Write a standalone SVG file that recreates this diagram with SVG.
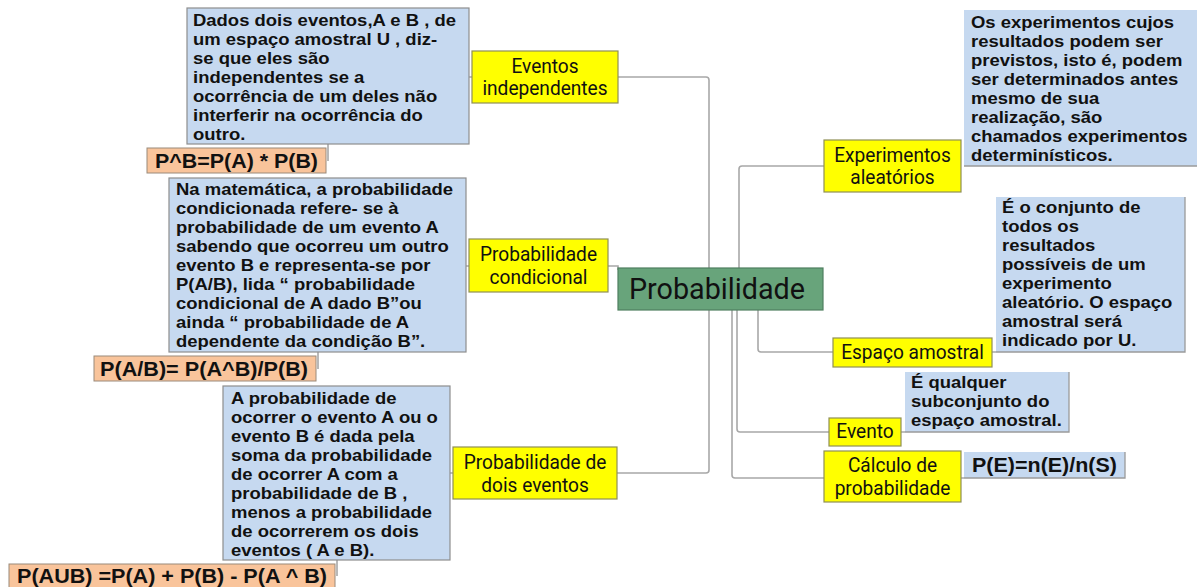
<svg xmlns="http://www.w3.org/2000/svg" width="1197" height="587" viewBox="0 0 1197 587">
<style>
.con{fill:none;stroke:#a8a8a8;stroke-width:1.6}
.blue{fill:#c6d9f0;stroke:#8e8e8e;stroke-width:1.2}
.blueR{fill:#c6d9f0}
.shadow{fill:none;stroke:#9a9a9a;stroke-width:1.3}
.yel{fill:#ffff00;stroke:#8f8f55;stroke-width:1.2}
.org{fill:#f9c49b;stroke:#9a8a7a;stroke-width:1}
.bt{font-family:"Liberation Sans",Arial,sans-serif;font-weight:bold;font-size:16px;fill:#111}
.ft{font-family:"Liberation Sans",Arial,sans-serif;font-weight:bold;font-size:21px;fill:#111}
.yt{font-family:Roboto,"Liberation Sans",sans-serif;font-size:21px;fill:#111;text-anchor:middle}
</style>
<rect width="1197" height="587" fill="#ffffff"/>
<g id="connectors">
<path class="con" d="M618,77 H706 Q709,77 709,80 V470 Q709,473 706,473 H617"/>
<path class="con" d="M608,266 H618 V270"/>
<path class="con" d="M739,270 V169 Q739,166 742,166 H824"/>
<path class="con" d="M758,310 V349 Q758,352 761,352 H833"/>
<path class="con" d="M737,310 V429 Q737,432 740,432 H829"/>
<path class="con" d="M732,310 V475 Q732,478 735,478 H824"/>
<path class="con" d="M469,77 H472 M466,266 H469 M450,473 H453 M992,352 H996 M901,432 H905 M961,478 H964"/>
<path class="con" d="M328,144 V161 M318,352 V369 M337,560 V576"/>
</g>
<g id="central">
<rect x="618" y="268" width="205" height="42" fill="#68a47b" stroke="#4f7f5f" stroke-width="1.2"/>
<text x="717" y="299" font-family="Roboto,'Liberation Sans',sans-serif" font-size="29" fill="#111" text-anchor="middle" textLength="176" lengthAdjust="spacingAndGlyphs">Probabilidade</text>
</g>
<g id="n-eventos-independentes">
<rect class="yel" x="472" y="51" width="146" height="52"/>
<g transform="translate(545 0) scale(0.91 1)"><text class="yt" x="0" y="73">Eventos</text><text class="yt" x="0" y="95">independentes</text></g>
</g>
<g id="d-eventos-independentes">
<rect class="blue" x="187" y="8" width="282" height="136"/>
<g class="bt" transform="translate(193 0) scale(1.155 1)">
<text x="0" y="26">Dados dois eventos,A e B , de</text>
<text x="0" y="45">um espaço amostral U , diz-</text>
<text x="0" y="64">se que eles são</text>
<text x="0" y="83">independentes se a</text>
<text x="0" y="102">ocorrência de um deles não</text>
<text x="0" y="121">interferir na ocorrência do</text>
<text x="0" y="140">outro.</text>
</g>
</g>
<g id="f-independentes">
<rect class="org" x="147" y="148" width="179" height="25"/>
<text class="ft" x="155" y="168" textLength="163" lengthAdjust="spacingAndGlyphs">P^B=P(A) * P(B)</text>
</g>
<g id="n-probabilidade-condicional">
<rect class="yel" x="469" y="239" width="139" height="53"/>
<g transform="translate(538.5 0) scale(0.91 1)"><text class="yt" x="0" y="261">Probabilidade</text><text class="yt" x="0" y="284">condicional</text></g>
</g>
<g id="d-probabilidade-condicional">
<rect class="blue" x="169" y="178" width="297" height="174"/>
<g class="bt" transform="translate(176 0) scale(1.155 1)">
<text x="0" y="195">Na matemática, a probabilidade</text>
<text x="0" y="214">condicionada refere- se à</text>
<text x="0" y="233">probabilidade de um evento A</text>
<text x="0" y="252">sabendo que ocorreu um outro</text>
<text x="0" y="271">evento B e representa-se por</text>
<text x="0" y="290">P(A/B), lida “ probabilidade</text>
<text x="0" y="309">condicional de A dado B”ou</text>
<text x="0" y="328">ainda “ probabilidade de A</text>
<text x="0" y="347">dependente da condição B”.</text>
</g>
</g>
<g id="f-condicional">
<rect class="org" x="94" y="356" width="222" height="25"/>
<text class="ft" x="100" y="376" textLength="208" lengthAdjust="spacingAndGlyphs">P(A/B)= P(A^B)/P(B)</text>
</g>
<g id="n-dois-eventos">
<rect class="yel" x="453" y="447" width="164" height="52"/>
<g transform="translate(535 0) scale(0.91 1)"><text class="yt" x="0" y="469">Probabilidade de</text><text class="yt" x="0" y="492">dois eventos</text></g>
</g>
<g id="d-dois-eventos">
<rect class="blue" x="223" y="386" width="227" height="174"/>
<g class="bt" transform="translate(231 0) scale(1.155 1)">
<text x="0" y="404">A probabilidade de</text>
<text x="0" y="423">ocorrer o evento A ou o</text>
<text x="0" y="442">evento B é dada pela</text>
<text x="0" y="461">soma da probabilidade</text>
<text x="0" y="480">de ocorrer A com a</text>
<text x="0" y="499">probabilidade de B ,</text>
<text x="0" y="518">menos a probabilidade</text>
<text x="0" y="537">de ocorrerem os dois</text>
<text x="0" y="556">eventos ( A e B).</text>
</g>
</g>
<g id="f-dois-eventos">
<rect class="org" x="9" y="564" width="326" height="26"/>
<text class="ft" x="17" y="583" textLength="310" lengthAdjust="spacingAndGlyphs">P(AUB) =P(A) + P(B) - P(A ^ B)</text>
</g>
<g id="n-experimentos">
<rect class="yel" x="824" y="140" width="137" height="52"/>
<g transform="translate(892.5 0) scale(0.91 1)"><text class="yt" x="0" y="162">Experimentos</text><text class="yt" x="0" y="184">aleatórios</text></g>
</g>
<g id="d-experimentos">
<rect class="blueR" x="964" y="10" width="233" height="156"/>
<path class="shadow" d="M964,166 H1197"/>
<g class="bt" transform="translate(971 0) scale(1.155 1)">
<text x="0" y="28">Os experimentos cujos</text>
<text x="0" y="47">resultados podem ser</text>
<text x="0" y="66">previstos, isto é, podem</text>
<text x="0" y="85">ser determinados antes</text>
<text x="0" y="104">mesmo de sua</text>
<text x="0" y="123">realização, são</text>
<text x="0" y="142">chamados experimentos</text>
<text x="0" y="161">determinísticos.</text>
</g>
</g>
<g id="n-espaco-amostral">
<rect class="yel" x="833" y="338" width="159" height="29"/>
<g transform="translate(912.5 0) scale(0.91 1)"><text class="yt" x="0" y="359">Espaço amostral</text></g>
</g>
<g id="d-espaco-amostral">
<rect class="blueR" x="996" y="197" width="189" height="155"/>
<path class="shadow" d="M996,352 H1185 V197"/>
<g class="bt" transform="translate(1002 0) scale(1.155 1)">
<text x="0" y="213">É o conjunto de</text>
<text x="0" y="232">todos os</text>
<text x="0" y="251">resultados</text>
<text x="0" y="270">possíveis de um</text>
<text x="0" y="289">experimento</text>
<text x="0" y="308">aleatório. O espaço</text>
<text x="0" y="327">amostral será</text>
<text x="0" y="346">indicado por U.</text>
</g>
</g>
<g id="n-evento">
<rect class="yel" x="829" y="418" width="72" height="28"/>
<g transform="translate(865 0) scale(0.91 1)"><text class="yt" x="0" y="438">Evento</text></g>
</g>
<g id="d-evento">
<rect class="blueR" x="905" y="372" width="164" height="60"/>
<path class="shadow" d="M905,432 H1069 V372"/>
<g class="bt" transform="translate(911 0) scale(1.155 1)">
<text x="0" y="388">É qualquer</text>
<text x="0" y="407">subconjunto do</text>
<text x="0" y="426">espaço amostral.</text>
</g>
</g>
<g id="n-calculo">
<rect class="yel" x="824" y="451" width="137" height="51"/>
<g transform="translate(892.5 0) scale(0.91 1)"><text class="yt" x="0" y="472">Cálculo de</text><text class="yt" x="0" y="495">probabilidade</text></g>
</g>
<g id="f-calculo">
<rect class="blueR" x="964" y="452" width="161" height="26"/>
<path class="shadow" d="M964,478 H1125 V452"/>
<text class="ft" x="972" y="472" font-size="19.5" textLength="145" lengthAdjust="spacingAndGlyphs" style="font-size:19.5px">P(E)=n(E)/n(S)</text>
</g>
</svg>
